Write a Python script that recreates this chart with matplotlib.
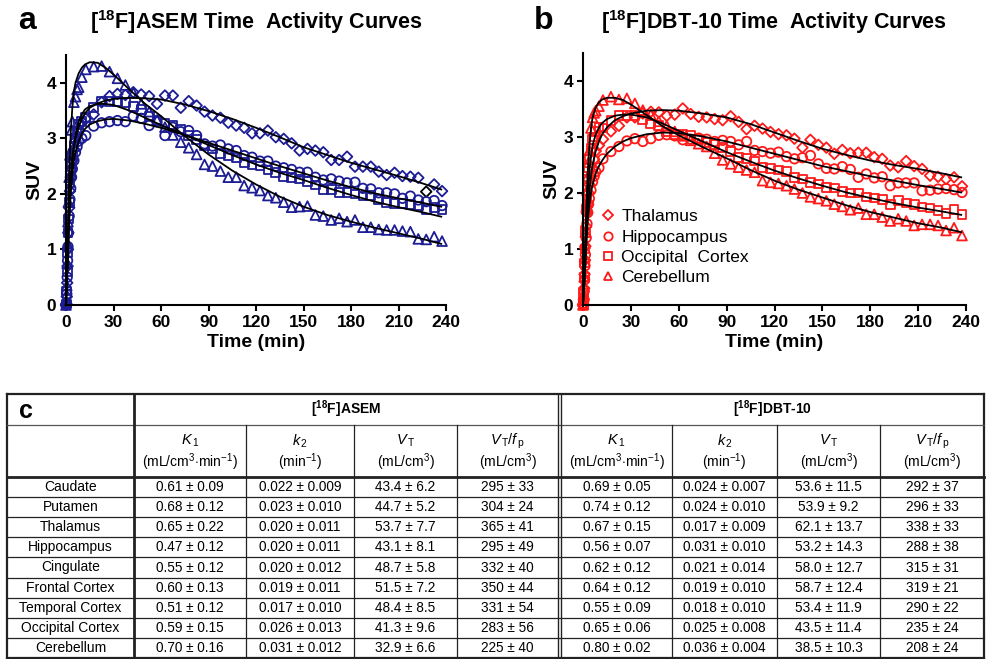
import matplotlib
matplotlib.use('Agg')
import matplotlib.pyplot as plt
from matplotlib.lines import Line2D

plt.rcParams['font.family'] = ['Liberation Sans', 'DejaVu Sans']
plt.rcParams['mathtext.fontset'] = 'custom'
plt.rcParams['mathtext.rm'] = 'Liberation Sans'
plt.rcParams['mathtext.it'] = 'Liberation Sans:italic'
plt.rcParams['mathtext.bf'] = 'Liberation Sans:bold'

# tiempos de los frames (min)
frame_t = [0, 0.25, 0.5, 0.75, 1, 1.25, 1.5, 2, 2.5, 3, 3.5, 4, 5, 6, 7, 8, 10,
           12.5, 17.5, 22.5, 27.5, 32.5, 37.5, 42.5, 47.5, 52.5, 57.5,
           62.5, 67.5, 72.5, 77.5, 82.5, 87.5, 92.5, 97.5, 102.5, 107.5,
           112.5, 117.5, 122.5, 127.5, 132.5, 137.5, 142.5, 147.5, 152.5, 157.5,
           162.5, 167.5, 172.5, 177.5, 182.5, 187.5, 192.5, 197.5, 202.5, 207.5,
           212.5, 217.5, 222.5, 227.5, 232.5, 237.5]

# [18F]ASEM
asem_thal = [0.0, 0.02, 0.15, 0.4, 0.7, 1.0, 1.3, 1.75, 2.05, 2.3, 2.45, 2.6, 2.8, 2.95, 3.05, 3.15, 3.3,
             3.35, 3.43, 3.65, 3.76, 3.80, 3.78, 3.83, 3.79, 3.76, 3.62,
             3.77, 3.77, 3.55, 3.67, 3.59, 3.48, 3.41, 3.37, 3.28, 3.23,
             3.19, 3.09, 3.09, 3.14, 3.02, 2.99, 2.91, 2.78, 2.81, 2.78,
             2.75, 2.61, 2.61, 2.67, 2.49, 2.49, 2.49, 2.40, 2.34, 2.38,
             2.32, 2.31, 2.29, 2.04, 2.17, 2.05]
asem_hipp = [0.0, 0.03, 0.2, 0.5, 0.8, 1.05, 1.3, 1.6, 1.9, 2.1, 2.3, 2.45, 2.6, 2.75, 2.85, 2.95, 3.0,
             3.05, 3.22, 3.28, 3.30, 3.32, 3.30, 3.40, 3.36, 3.23, 3.30,
             3.05, 3.20, 3.12, 3.14, 3.05, 2.90, 2.86, 2.88, 2.81, 2.78,
             2.69, 2.66, 2.59, 2.59, 2.50, 2.47, 2.44, 2.39, 2.39, 2.30,
             2.25, 2.27, 2.23, 2.20, 2.21, 2.10, 2.09, 2.02, 2.02, 2.00,
             1.92, 1.96, 1.89, 1.86, 1.88, 1.79]
asem_occ = [0.0, 0.02, 0.25, 0.6, 0.95, 1.3, 1.55, 1.85, 2.2, 2.4, 2.55, 2.7, 2.85, 3.0, 3.1, 3.25, 3.3,
            3.37, 3.55, 3.67, 3.66, 3.66, 3.64, 3.57, 3.52, 3.40, 3.33,
            3.27, 3.24, 3.17, 3.05, 2.98, 2.86, 2.81, 2.73, 2.69, 2.66,
            2.57, 2.52, 2.50, 2.43, 2.39, 2.31, 2.29, 2.27, 2.22, 2.16,
            2.07, 2.08, 2.02, 2.03, 2.00, 1.96, 1.97, 1.90, 1.85, 1.83,
            1.83, 1.81, 1.78, 1.72, 1.75, 1.72]
asem_cere = [0.0, 0.05, 0.35, 0.75, 1.1, 1.5, 1.85, 2.3, 2.7, 2.75, 3.15, 3.3, 3.65, 3.75, 3.88, 3.92, 4.1,
             4.24, 4.29, 4.30, 4.20, 4.08, 3.96, 3.82, 3.62, 3.48, 3.33,
             3.20, 3.06, 2.93, 2.83, 2.71, 2.53, 2.50, 2.41, 2.30, 2.30,
             2.15, 2.11, 2.06, 1.97, 1.93, 1.85, 1.76, 1.77, 1.78, 1.62,
             1.60, 1.53, 1.56, 1.50, 1.53, 1.40, 1.40, 1.36, 1.35, 1.35,
             1.33, 1.32, 1.19, 1.18, 1.23, 1.15]
asem_black_t = 227.5   # el punto de talamo marcado en negro

# [18F]DBT-10
dbt_thal = [0.0, 0.01, 0.1, 0.3, 0.55, 0.8, 1.05, 1.4, 1.65, 1.8, 2.0, 2.15, 2.3, 2.45, 2.6, 2.75, 2.85,
            2.96, 3.10, 3.20, 3.35, 3.35, 3.42, 3.45, 3.44, 3.38, 3.40,
            3.51, 3.41, 3.36, 3.35, 3.32, 3.30, 3.37, 3.27, 3.14, 3.20,
            3.15, 3.09, 3.05, 3.03, 2.97, 2.81, 2.95, 2.86, 2.81, 2.70,
            2.77, 2.71, 2.72, 2.72, 2.64, 2.61, 2.49, 2.46, 2.57, 2.48,
            2.43, 2.31, 2.29, 2.25, 2.28, 2.12]
dbt_hipp = [0.0, 0.0, 0.08, 0.25, 0.45, 0.7, 0.9, 1.2, 1.45, 1.65, 1.8, 1.9, 2.05, 2.2, 2.3, 2.38, 2.45,
            2.61, 2.74, 2.83, 2.93, 2.97, 2.92, 2.97, 3.03, 3.04, 3.02,
            2.95, 2.96, 2.98, 2.96, 2.92, 2.94, 2.92, 2.86, 2.92, 2.76,
            2.74, 2.71, 2.73, 2.65, 2.61, 2.63, 2.67, 2.52, 2.44, 2.43,
            2.47, 2.42, 2.28, 2.34, 2.27, 2.29, 2.13, 2.18, 2.18, 2.18,
            2.04, 2.05, 2.07, 2.08, 2.06, 2.01]
dbt_occ = [0.0, 0.03, 0.2, 0.5, 0.75, 1.0, 1.3, 1.7, 1.95, 2.25, 2.45, 2.6, 2.8, 2.95, 3.0, 3.1, 3.18,
           3.16, 3.29, 3.38, 3.39, 3.38, 3.31, 3.23, 3.20, 3.09, 3.05,
           3.04, 3.03, 2.96, 2.90, 2.86, 2.81, 2.74, 2.64, 2.61, 2.57,
           2.46, 2.44, 2.41, 2.39, 2.28, 2.25, 2.19, 2.16, 2.10, 2.09,
           2.03, 2.00, 2.00, 1.93, 1.91, 1.89, 1.79, 1.87, 1.82, 1.79,
           1.75, 1.73, 1.69, 1.64, 1.70, 1.61]
dbt_cere = [0.0, 0.02, 0.2, 0.5, 0.85, 1.1, 1.3, 1.75, 2.05, 2.3, 2.55, 2.76, 3.16, 3.35, 3.43, 3.47, 3.55,
            3.66, 3.72, 3.67, 3.69, 3.60, 3.48, 3.40, 3.28, 3.20, 3.10,
            3.02, 2.94, 2.88, 2.83, 2.71, 2.59, 2.52, 2.46, 2.41, 2.37,
            2.22, 2.19, 2.17, 2.13, 2.07, 2.00, 1.93, 1.90, 1.86, 1.80,
            1.76, 1.70, 1.73, 1.62, 1.62, 1.57, 1.50, 1.54, 1.50, 1.42,
            1.44, 1.44, 1.42, 1.33, 1.38, 1.24]

# curvas ajustadas (1TC)
fit_t = [0, 1, 2, 3, 4, 5, 6, 8, 10, 12, 15, 20, 25, 30, 40, 50, 60, 75, 90, 105,
         120, 135, 150, 165, 180, 195, 210, 225, 237]
asem_thal_fit = [0, 0.8, 1.7, 2.3, 2.65, 2.85, 3.0, 3.2, 3.35, 3.45, 3.55, 3.63, 3.68, 3.71, 3.73, 3.72, 3.70,
                 3.61, 3.49, 3.35, 3.19, 3.02, 2.84, 2.70, 2.56, 2.44, 2.32, 2.19, 2.08]
asem_hipp_fit = [0, 0.7, 1.5, 2.0, 2.35, 2.6, 2.75, 2.95, 3.08, 3.17, 3.25, 3.31, 3.34, 3.35, 3.32, 3.26, 3.19,
                 3.06, 2.92, 2.78, 2.64, 2.50, 2.37, 2.24, 2.12, 2.01, 1.92, 1.84, 1.77]
asem_occ_fit = [0, 0.75, 1.6, 2.2, 2.6, 2.85, 3.05, 3.3, 3.43, 3.52, 3.58, 3.62, 3.62, 3.60, 3.50, 3.37, 3.24,
                3.06, 2.88, 2.70, 2.53, 2.38, 2.25, 2.11, 1.98, 1.86, 1.76, 1.67, 1.59]
asem_cere_fit = [0, 1.1, 2.3, 3.1, 3.55, 3.85, 4.0, 4.17, 4.27, 4.33, 4.37, 4.36, 4.27, 4.15, 3.88, 3.62, 3.40,
                 3.04, 2.71, 2.42, 2.17, 1.95, 1.77, 1.62, 1.50, 1.39, 1.29, 1.19, 1.10]
dbt_thal_fit = [0, 0.5, 1.2, 1.7, 2.05, 2.3, 2.5, 2.75, 2.92, 3.05, 3.17, 3.30, 3.37, 3.42, 3.47, 3.48, 3.47,
                3.42, 3.35, 3.23, 3.08, 2.93, 2.79, 2.68, 2.58, 2.50, 2.43, 2.35, 2.28]
dbt_hipp_fit = [0, 0.4, 1.0, 1.5, 1.8, 2.0, 2.15, 2.35, 2.48, 2.58, 2.70, 2.83, 2.92, 2.98, 3.05, 3.08, 3.07,
                3.01, 2.92, 2.81, 2.70, 2.59, 2.48, 2.39, 2.30, 2.22, 2.14, 2.07, 2.01]
dbt_occ_fit = [0, 0.6, 1.4, 2.0, 2.4, 2.65, 2.85, 3.05, 3.17, 3.25, 3.32, 3.38, 3.40, 3.40, 3.35, 3.24, 3.11,
               2.92, 2.73, 2.56, 2.40, 2.26, 2.13, 2.01, 1.91, 1.82, 1.74, 1.67, 1.61]
dbt_cere_fit = [0, 0.8, 1.7, 2.4, 2.85, 3.15, 3.35, 3.53, 3.62, 3.67, 3.70, 3.70, 3.66, 3.58, 3.39, 3.19, 3.03,
                2.82, 2.62, 2.41, 2.22, 2.06, 1.92, 1.78, 1.66, 1.56, 1.46, 1.38, 1.30]

region_names = ['Thalamus', 'Hippocampus', 'Occipital  Cortex', 'Cerebellum']
markers = ['D', 'o', 's', '^']
msizes = [5.4, 6.8, 6.3, 7.0]

# tabla
tabla_regiones = ['Caudate', 'Putamen', 'Thalamus', 'Hippocampus', 'Cingulate',
                  'Frontal Cortex', 'Temporal Cortex', 'Occipital Cortex', 'Cerebellum']
asem_K1 = ['0.61 ± 0.09', '0.68 ± 0.12', '0.65 ± 0.22', '0.47 ± 0.12', '0.55 ± 0.12',
           '0.60 ± 0.13', '0.51 ± 0.12', '0.59 ± 0.15', '0.70 ± 0.16']
asem_k2 = ['0.022 ± 0.009', '0.023 ± 0.010', '0.020 ± 0.011', '0.020 ± 0.011', '0.020 ± 0.012',
           '0.019 ± 0.011', '0.017 ± 0.010', '0.026 ± 0.013', '0.031 ± 0.012']
asem_VT = ['43.4 ± 6.2', '44.7 ± 5.2', '53.7 ± 7.7', '43.1 ± 8.1', '48.7 ± 5.8',
           '51.5 ± 7.2', '48.4 ± 8.5', '41.3 ± 9.6', '32.9 ± 6.6']
asem_VTfp = ['295 ± 33', '304 ± 24', '365 ± 41', '295 ± 49', '332 ± 40',
             '350 ± 44', '331 ± 54', '283 ± 56', '225 ± 40']
dbt_K1 = ['0.69 ± 0.05', '0.74 ± 0.12', '0.67 ± 0.15', '0.56 ± 0.07', '0.62 ± 0.12',
          '0.64 ± 0.12', '0.55 ± 0.09', '0.65 ± 0.06', '0.80 ± 0.02']
dbt_k2 = ['0.024 ± 0.007', '0.024 ± 0.010', '0.017 ± 0.009', '0.031 ± 0.010', '0.021 ± 0.014',
          '0.019 ± 0.010', '0.018 ± 0.010', '0.025 ± 0.008', '0.036 ± 0.004']
dbt_VT = ['53.6 ± 11.5', '53.9 ± 9.2', '62.1 ± 13.7', '53.2 ± 14.3', '58.0 ± 12.7',
          '58.7 ± 12.4', '53.4 ± 11.9', '43.5 ± 11.4', '38.5 ± 10.3']
dbt_VTfp = ['292 ± 37', '296 ± 33', '338 ± 33', '288 ± 38', '315 ± 31',
            '319 ± 21', '290 ± 22', '235 ± 24', '208 ± 24']
param_names = [r'$K_{\,1}$', r'$k_{\,2}$', r'$V_{\,\mathrm{T}}$', r'$V_{\,\mathrm{T}}/f_{\,\mathrm{p}}$']
param_units = [r'(mL/cm$^{3}$$\cdot$min$^{-1}$)', r'(min$^{-1}$)', r'(mL/cm$^{3}$)', r'(mL/cm$^{3}$)']

W, H = 992, 659
fig = plt.figure(figsize=(W / 100, H / 100), dpi=100)


def rect(x0, y0, x1, y1):
    return [x0 / W, 1 - y1 / H, (x1 - x0) / W, (y1 - y0) / H]


def panel(r, data, fits, color, title, title_x, letter, letter_x, black_t=None, legend=False):
    ax = fig.add_axes(r)
    for i, (vals, fv) in enumerate(zip(data, fits)):
        ecs = [color] * len(frame_t)
        if black_t is not None and i == 0:
            ecs[frame_t.index(black_t)] = 'black'
        ax.scatter(frame_t, vals, marker=markers[i], s=msizes[i] ** 2, facecolors='none',
                   edgecolors=ecs, linewidths=1.3, clip_on=False, zorder=2)
        ax.plot(fit_t, fv, color='black', lw=1.3, zorder=3)
    ax.set_xlim(0, 240)
    ax.set_ylim(0, 4.5)
    ax.set_xticks([0, 30, 60, 90, 120, 150, 180, 210, 240])
    ax.set_yticks([0, 1, 2, 3, 4])
    for s in ['top', 'right']:
        ax.spines[s].set_visible(False)
    for s in ['left', 'bottom']:
        ax.spines[s].set_linewidth(1.5)
    ax.tick_params(direction='out', length=4, width=1.5, labelsize=12.5, pad=3)
    for lab in ax.get_xticklabels() + ax.get_yticklabels():
        lab.set_fontweight('bold')
    ax.set_xlabel('Time (min)', fontsize=14, fontweight='bold', labelpad=3)
    ax.set_ylabel('SUV', fontsize=14, fontweight='bold', labelpad=2)
    fig.text(title_x / W, 1 - 22 / H, title, fontsize=15.5, fontweight='bold', ha='center', va='center')
    fig.text(letter_x / W, 1 - 21 / H, letter, fontsize=23, fontweight='bold', ha='left', va='center')
    if legend:
        handles = [Line2D([], [], ls='none', marker=markers[i], ms=msizes[i] - 0.8, mfc='none',
                          mec=color, mew=1.3) for i in range(4)]
        ax.legend(handles, region_names, loc='upper left', bbox_to_anchor=(0.05, 0.38),
                  frameon=False, fontsize=12.5, handlelength=0.7, handletextpad=0.4,
                  labelspacing=0.3, borderaxespad=0, borderpad=0)
    return ax


navy = '#1c1c94'
red = '#ff1a1a'
panel(rect(66, 55, 446, 305), [asem_thal, asem_hipp, asem_occ, asem_cere],
      [asem_thal_fit, asem_hipp_fit, asem_occ_fit, asem_cere_fit], navy,
      r'[$^{\mathbf{18}}$F]ASEM Time  Activity Curves', 256, 'a', 18, black_t=asem_black_t)
panel(rect(583, 53, 966, 305), [dbt_thal, dbt_hipp, dbt_occ, dbt_cere],
      [dbt_thal_fit, dbt_hipp_fit, dbt_occ_fit, dbt_cere_fit], red,
      r'[$^{\mathbf{18}}$F]DBT-10 Time  Activity Curves', 774, 'b', 534, legend=True)

# ---- tabla c ----
axT = fig.add_axes([0, 0, 1, 1], zorder=-1)
axT.set_xlim(0, W)
axT.set_ylim(H, 0)
axT.axis('off')

top, h1, h2, bot = 394, 425, 477, 658
left, right = 7, 984
lab_x = 134
cols_asem = [134, 246, 354, 457, 558]
cols_dbt = [561, 672, 777, 880, 984]
row_h = (bot - h2) / len(tabla_regiones)
lc = '#222222'

axT.plot([left, right], [top, top], color=lc, lw=1.6)
axT.plot([left, right], [bot, bot], color=lc, lw=1.6)
axT.plot([left, left], [top, bot], color=lc, lw=1.6)
axT.plot([right, right], [top, bot], color=lc, lw=1.6)
axT.plot([left, right], [h1, h1], color='#555555', lw=0.9)
axT.plot([left, right], [h2, h2], color=lc, lw=2.0)
axT.plot([lab_x, lab_x], [top, bot], color=lc, lw=2.0)
axT.plot([557.5, 557.5], [top, bot], color=lc, lw=1.0)
axT.plot([561, 561], [top, bot], color=lc, lw=1.0)
for x in cols_asem[1:-1] + cols_dbt[1:-1]:
    axT.plot([x, x], [h1, bot], color=lc, lw=0.9)
for k in range(1, len(tabla_regiones)):
    y = h2 + k * row_h
    axT.plot([left, right], [y, y], color=lc, lw=0.9)

axT.text(19, (top + h1) / 2 + 1, 'c', fontsize=18, fontweight='bold', ha='left', va='center')
axT.text((cols_asem[0] + cols_asem[-1]) / 2, (top + h1) / 2, r'[$^{\mathbf{18}}$F]ASEM',
         fontsize=10, fontweight='bold', ha='center', va='center')
axT.text((cols_dbt[0] + cols_dbt[-1]) / 2, (top + h1) / 2, r'[$^{\mathbf{18}}$F]DBT-10',
         fontsize=10, fontweight='bold', ha='center', va='center')

for cols in [cols_asem, cols_dbt]:
    for j in range(4):
        cx = (cols[j] + cols[j + 1]) / 2
        axT.text(cx, 441, param_names[j], fontsize=10.5, ha='center', va='center')
        axT.text(cx, 462, param_units[j], fontsize=10, ha='center', va='center')

tabla_cols = [asem_K1, asem_k2, asem_VT, asem_VTfp, dbt_K1, dbt_k2, dbt_VT, dbt_VTfp]
centros = [(cols_asem[j] + cols_asem[j + 1]) / 2 for j in range(4)] + \
          [(cols_dbt[j] + cols_dbt[j + 1]) / 2 for j in range(4)]
for i, reg in enumerate(tabla_regiones):
    cy = h2 + (i + 0.5) * row_h
    axT.text((left + lab_x) / 2, cy, reg, fontsize=10, ha='center', va='center')
    for cx, col in zip(centros, tabla_cols):
        axT.text(cx, cy, col[i], fontsize=9.8, ha='center', va='center')

fig.savefig('out.png', dpi=100)
